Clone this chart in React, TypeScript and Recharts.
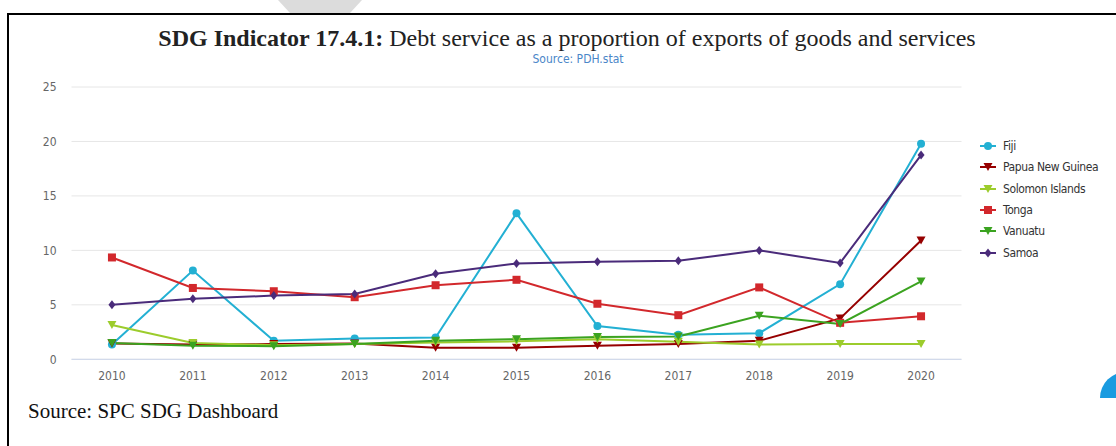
import React from 'react'
import { LineChart, Line, XAxis, YAxis, CartesianGrid } from 'recharts'

// SDG 17.4.1 - debt service as % of exports, Pacific countries
const years = ['2010', '2011', '2012', '2013', '2014', '2015', '2016', '2017', '2018', '2019', '2020']
const fiji = [1.35, 8.15, 1.7, 1.9, 2.0, 13.4, 3.05, 2.25, 2.4, 6.9, 19.8]
const png = [1.45, 1.35, 1.4, 1.45, 1.05, 1.05, 1.25, 1.4, 1.7, 3.75, 10.9]
const solomon = [3.15, 1.5, 1.3, 1.4, 1.55, 1.65, 1.85, 1.6, 1.35, 1.4, 1.4]
const tonga = [9.35, 6.55, 6.25, 5.7, 6.8, 7.3, 5.1, 4.05, 6.6, 3.35, 3.95]
const vanuatu = [1.5, 1.25, 1.2, 1.4, 1.7, 1.85, 2.05, 2.1, 4.0, 3.25, 7.15]
const samoa = [5.0, 5.55, 5.85, 6.0, 7.85, 8.8, 8.95, 9.05, 10.0, 8.85, 18.75]
const yTicks = [0, 5, 10, 15, 20, 25]

type Shape = 'circle' | 'square' | 'triangle' | 'diamond'

const series: { key: string; name: string; color: string; shape: Shape; values: number[] }[] = [
  { key: 'fiji', name: 'Fiji', color: '#23b0d3', shape: 'circle', values: fiji },
  { key: 'png', name: 'Papua New Guinea', color: '#960000', shape: 'triangle', values: png },
  { key: 'solomon', name: 'Solomon Islands', color: '#9ccc2c', shape: 'triangle', values: solomon },
  { key: 'tonga', name: 'Tonga', color: '#d2282c', shape: 'square', values: tonga },
  { key: 'vanuatu', name: 'Vanuatu', color: '#3ba320', shape: 'triangle', values: vanuatu },
  { key: 'samoa', name: 'Samoa', color: '#4a2b7a', shape: 'diamond', values: samoa },
]

const data = years.map((year, i) => {
  const row: Record<string, any> = { year }
  series.forEach(s => { row[s.key] = s.values[i] })
  return row
})

const tickFont = "'Liberation Sans Narrow', 'DejaVu Sans Condensed', 'Open Sans', sans-serif"
const serif = "'Liberation Serif', 'Times New Roman', serif"

function marker(shape: Shape, cx: number, cy: number, color: string, key?: any) {
  if (shape === 'circle') return <circle key={key} cx={cx} cy={cy} r={4} fill={color} />
  if (shape === 'square') return <rect key={key} x={cx - 4} y={cy - 4} width={8} height={8} fill={color} />
  if (shape === 'triangle')
    return <path key={key} d={`M${cx - 4.5},${cy - 4} L${cx + 4.5},${cy - 4} L${cx},${cy + 4} Z`} fill={color} />
  return <path key={key} d={`M${cx},${cy - 4.5} L${cx + 3.5},${cy} L${cx},${cy + 4.5} L${cx - 3.5},${cy} Z`} fill={color} />
}

function makeDot(shape: Shape, color: string) {
  return (props: any) => {
    const { cx, cy, index } = props
    if (cx == null || cy == null) return <g key={index} />
    return marker(shape, cx, cy, color, index)
  }
}

function LegendBox() {
  return (
    <div style={{ position: 'absolute', left: 980, top: 135, fontFamily: tickFont, fontSize: 12, color: '#333', letterSpacing: -0.4 }}>
      {series.map(s => (
        <div key={s.key} style={{ height: 21.45, display: 'flex', alignItems: 'center', whiteSpace: 'nowrap' }}>
          <svg width={18} height={12} style={{ marginRight: 5 }}>
            <line x1={0} y1={6} x2={16} y2={6} stroke={s.color} strokeWidth={2} />
            {marker(s.shape, 8, 6, s.color)}
          </svg>
          <span>{s.name}</span>
        </div>
      ))}
    </div>
  )
}

export default function App() {
  return (
    <div style={{ position: 'absolute', left: 0, top: 0, width: 1116, height: 446, overflow: 'hidden', background: '#fff' }}>
      {/* grey page marker peeking above the frame */}
      <svg width={1116} height={20} style={{ position: 'absolute', left: 0, top: 0 }}>
        <polygon points="278,0 362,0 350,13 290,13" fill="#dcdcdc" />
      </svg>
      <div style={{ position: 'absolute', left: 7, top: 13, width: 1120, height: 440, borderTop: '2px solid #000', borderLeft: '2px solid #000', background: '#fff' }} />
      <div style={{ position: 'absolute', left: 1098, top: 372, width: 20, height: 26, overflow: 'hidden' }}>
        <div style={{ position: 'absolute', left: 2, top: 0, width: 52, height: 52, borderRadius: '50%', background: '#1a9be0' }} />
      </div>

      <div style={{ position: 'absolute', left: 0, top: 25, width: 1134, textAlign: 'center', fontFamily: serif, fontSize: 24, color: '#222', whiteSpace: 'nowrap' }}>
        <b>SDG Indicator 17.4.1:</b> Debt service as a proportion of exports of goods and services
      </div>
      <div style={{ position: 'absolute', left: 0, top: 52, width: 1156, textAlign: 'center', fontFamily: tickFont, fontSize: 12, color: '#4a86c8' }}>
        Source: PDH.stat
      </div>

      <div style={{ position: 'absolute', left: 0, top: 0 }}>
        <LineChart width={1116} height={446} data={data} margin={{ top: 87, right: 154.5, bottom: 56.7, left: 11.5 }}>
          <CartesianGrid vertical={false} stroke="#e6e6e6" />
          <XAxis
            dataKey="year"
            padding={{ left: 40.45, right: 40.45 }}
            height={30}
            tickLine={false}
            tickSize={0}
            tickMargin={12}
            axisLine={{ stroke: '#ccd6eb' }}
            tick={{ fill: '#666', fontSize: 12, fontFamily: tickFont }}
            interval={0}
          />
          <YAxis
            domain={[0, 25]}
            ticks={yTicks}
            width={60}
            axisLine={false}
            tickLine={false}
            tickSize={0}
            tickMargin={15}
            tick={{ fill: '#666', fontSize: 12, fontFamily: tickFont }}
          />
          {series.map(s => (
            <Line
              key={s.key}
              dataKey={s.key}
              name={s.name}
              stroke={s.color}
              strokeWidth={2}
              dot={makeDot(s.shape, s.color)}
              activeDot={false}
              isAnimationActive={false}
            />
          ))}
        </LineChart>
      </div>

      <LegendBox />

      <div style={{ position: 'absolute', left: 28, top: 399, fontFamily: serif, fontSize: 21, color: '#111' }}>
        Source: SPC SDG Dashboard
      </div>
    </div>
  )
}
